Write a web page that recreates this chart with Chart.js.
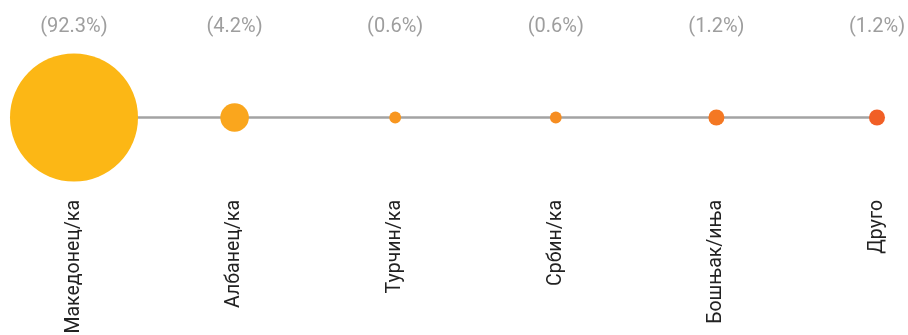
<!DOCTYPE html>
<html>
<head>
<meta charset="utf-8">
<script src="https://cdn.jsdelivr.net/npm/chart.js@4.4.1/dist/chart.umd.min.js"></script>
<style>
  html, body { margin: 0; padding: 0; background: #fff; }
  #wrap { width: 908px; height: 335px; }
</style>
</head>
<body>
<div id="wrap"><canvas id="myChart"></canvas></div>
<script>
// categories and their shares (%)
const categories = ['Македонец/ка', 'Албанец/ка', 'Турчин/ка', 'Србин/ка', 'Бошњак/иња', 'Друго'];
const shares = [92.3, 4.2, 0.6, 0.6, 1.2, 1.2];
const shareLabels = ['(92.3%)', '(4.2%)', '(0.6%)', '(0.6%)', '(1.2%)', '(1.2%)'];

const dotColors = ['#fcb715', '#faa61d', '#f8961f', '#f68d21', '#f47823', '#f15f26'];

// bubble size grows with the square root of the share
function radiusFor(v) {
    return 0.8 + 6.58 * Math.sqrt(v);
}

// keep the chart area where we put it, no extra room for overhanging labels
function fixAxis(height) {
    return axis => {
        axis.height = height;
        axis.paddingLeft = 0;
        axis.paddingRight = 0;
    };
}

function createChart() {
    const ctx = document.getElementById('myChart').getContext('2d');
    const myChart = new Chart(ctx, {
        type: 'line',
        data: {
            labels: categories,
            datasets: [{
                label: 'Етничка припадност',
                data: shares.map(() => 0),
                borderColor: '#a3a3a3',
                borderWidth: 2.5,
                pointRadius: c => radiusFor(shares[c.dataIndex]),
                pointHoverRadius: c => radiusFor(shares[c.dataIndex]),
                pointBackgroundColor: dotColors,
                pointBorderWidth: 0,
                pointHoverBorderWidth: 0,
                clip: false
            }]
        },
        options: {
            responsive: true,
            maintainAspectRatio: false,
            animation: false,
            layout: {
                autoPadding: false,
                padding: { left: 74, right: 31, top: 12, bottom: 0 }
            },
            plugins: {
                legend: { display: false },
                tooltip: { enabled: false }
            },
            scales: {
                x: {
                    type: 'category',
                    position: 'bottom',
                    offset: false,
                    grid: { display: false, drawTicks: false },
                    border: { display: false },
                    ticks: {
                        minRotation: 90,
                        maxRotation: 90,
                        autoSkip: false,
                        padding: 3,
                        color: '#222',
                        font: { family: 'Roboto', size: 19.5 }
                    },
                    afterFit: fixAxis(138)
                },
                x2: {
                    type: 'category',
                    position: 'top',
                    labels: shareLabels,
                    offset: false,
                    grid: { display: false, drawTicks: false },
                    border: { display: false },
                    ticks: {
                        maxRotation: 0,
                        autoSkip: false,
                        padding: -1,
                        color: '#9e9e9e',
                        font: { family: 'Roboto', size: 20 }
                    },
                    afterFit: fixAxis(26)
                },
                y: {
                    display: false,
                    min: -1,
                    max: 1
                }
            }
        }
    });
    return myChart;
}

createChart();
</script>
</body>
</html>
